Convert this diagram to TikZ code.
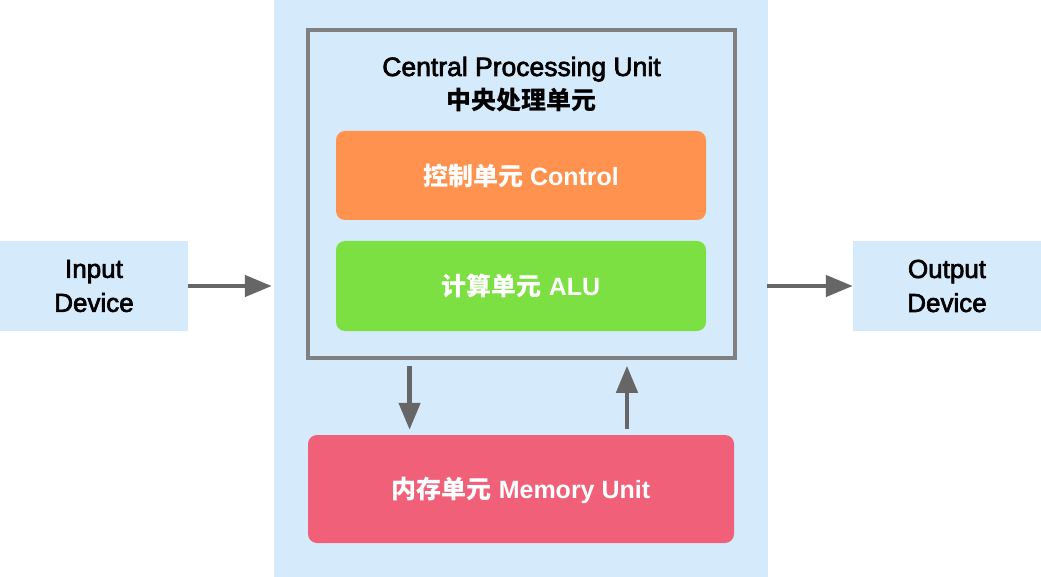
\documentclass[tikz,border=0pt]{standalone}
\usepackage{fontspec}
\setmainfont{Liberation Sans}
\newfontfamily\cjk{Noto Sans CJK SC}
\newfontfamily\medfont[FakeBold=2.5]{Liberation Sans}
\usetikzlibrary{arrows.meta,calc}
\definecolor{bgblue}{HTML}{D5EBFC}
\definecolor{framegray}{HTML}{808080}
\definecolor{arrgray}{HTML}{666666}
\definecolor{ctrlorange}{HTML}{FF924E}
\definecolor{alugreen}{HTML}{7CDF42}
\definecolor{mempink}{HTML}{F06179}
\tikzset{
  x=1pt,y=-1pt,
  txt/.style={font=\fontsize{26.5}{34}\selectfont},
  unitbox/.style={rounded corners=9pt, inner sep=0pt, text=white,
    font=\fontsize{25}{30}\selectfont\bfseries},
  devbox/.style={fill=bgblue, minimum width=188pt, minimum height=90pt, inner sep=0pt,
    align=center, font=\fontsize{26}{34}\selectfont\medfont},
  arr/.style={draw=arrgray, line width=4.5pt, -{Triangle[length=27pt,width=21pt]}}
}
\begin{document}
\begin{tikzpicture}
\useasboundingbox (0,0) rectangle (1041,577);
\node[fill=bgblue, minimum width=494pt, minimum height=577pt, inner sep=0pt] (core) at (521,288.5) {};
\node[draw=framegray, line width=3.5pt, minimum width=427pt, minimum height=328pt, inner sep=0pt] (cpu) at (521.5,194) {};
\node[anchor=base, txt, inner sep=0pt] (title1) at (521.5,76) {\medfont Central Processing Unit};
\node[anchor=base, txt, inner sep=0pt] (title2) at (521.5,110) {\fontsize{25}{34}\selectfont\cjk\bfseries 中央处理单元};
\node[unitbox, fill=ctrlorange, minimum width=370pt, minimum height=89pt, text depth=2pt] (ctrl) at (521,175.5) {{\cjk 控制单元} Control};
\node[unitbox, fill=alugreen, minimum width=370pt, minimum height=90pt, text depth=2pt] (alu) at (521,286) {{\cjk 计算单元} ALU};
\node[unitbox, fill=mempink, minimum width=426pt, minimum height=108pt, text depth=2pt] (mem) at (521,489) {{\cjk 内存单元} Memory Unit};
\node[devbox] (input) at (94,286) {Input\\Device};
\node[devbox] (output) at (947,286) {Output\\Device};
\draw[arr, shorten >=2pt] (input.east) -- (input.east -| core.west);
\draw[arr, shorten <=-1pt] (output.west -| core.east) -- (output.west);
\coordinate (d1) at ($(cpu.south west)!0.24!(cpu.south east)$);
\coordinate (u1) at ($(cpu.south west)!0.745!(cpu.south east)$);
\draw[arr, shorten <=6pt, shorten >=5pt] (d1) -- (d1 |- mem.north);
\draw[arr, shorten <=6pt, shorten >=6pt] (u1 |- mem.north) -- (u1);
\end{tikzpicture}
\end{document}
